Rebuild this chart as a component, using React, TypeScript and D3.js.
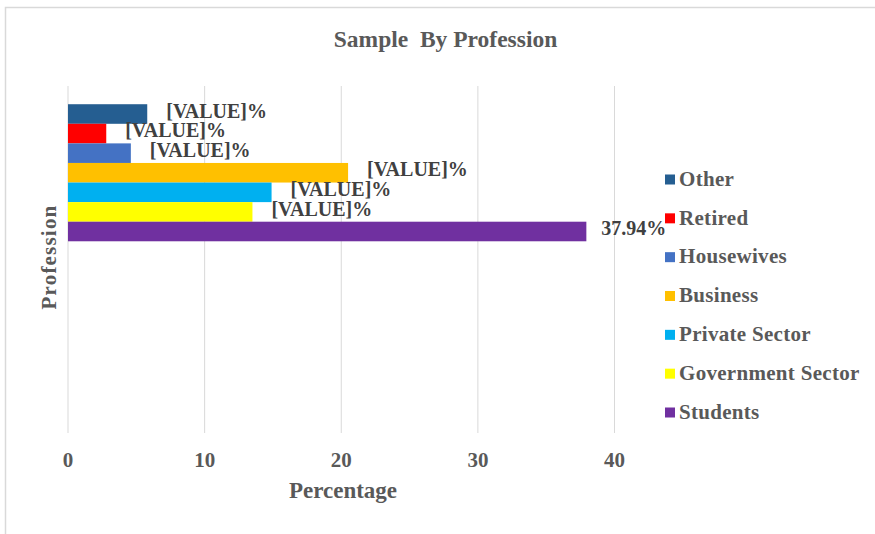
import React from "react";
import * as d3 from "d3";

// Share of the sample by profession (percent)
const series = ["Other", "Retired", "Housewives", "Business", "Private Sector", "Government Sector", "Students"];
const values = [5.8, 2.8, 4.6, 20.5, 14.9, 13.5, 37.94];
const valueLabels = ["[VALUE]%", "[VALUE]%", "[VALUE]%", "[VALUE]%", "[VALUE]%", "[VALUE]%", "37.94%"];
const colors = ["#255e91", "#ff0000", "#4472c4", "#ffc000", "#00b0f0", "#ffff00", "#7030a0"];
const categories = ["Profession", " "];
const xTicks = [0, 10, 20, 30, 40];

const W = 875;
const H = 534;
const FONT = "'Liberation Serif', 'Times New Roman', serif";
const TEXT = "#595959";
const LABEL = "#404040";

export default function App() {
  const x = d3.scaleLinear().domain([0, 40]).range([68, 614.5]);
  const yCat = d3.scaleBand<string>().domain(categories).range([86, 433]).paddingInner(0.21).paddingOuter(0.105);
  const yBar = d3.scaleBand<string>().domain(series).range([0, yCat.bandwidth()]).padding(0);
  const top = yCat(categories[0]) ?? 0;

  const legendY = d3.scalePoint<string>().domain(series).range([180, 413]);

  return (
    <svg width={W} height={H} style={{ position: "absolute", left: 0, top: 0, background: "#fff" }}>
      <rect x={5.5} y={7.5} width={W + 10} height={H + 10} fill="#fff" stroke="#d9d9d9" strokeWidth={1.5} />

      <text x={445.5} y={47} textAnchor="middle" fontFamily={FONT} fontWeight="bold" fontSize={23.5} fill={TEXT} style={{ whiteSpace: "pre" }}>
        {"Sample  By Profession"}
      </text>

      {xTicks.map((t) => (
        <g key={t}>
          <line x1={x(t)} x2={x(t)} y1={86} y2={433} stroke="#d9d9d9" strokeWidth={1} />
          <text x={x(t)} y={467} textAnchor="middle" fontFamily={FONT} fontWeight="bold" fontSize={21} fill={TEXT}>
            {t}
          </text>
        </g>
      ))}

      {series.map((s, i) => {
        const y0 = top + (yBar(s) ?? 0);
        const bh = yBar.bandwidth();
        const xe = x(values[i]);
        const isPlaceholder = valueLabels[i].startsWith("[");
        return (
          <g key={s}>
            <rect x={x(0)} y={y0} width={xe - x(0)} height={bh} fill={colors[i]} />
            <text
              x={xe + (isPlaceholder ? 19 : 15)}
              y={y0 + bh / 2 - 1}
              dominantBaseline="middle"
              fontFamily={FONT}
              fontWeight="bold"
              fontSize={20}
              fill={LABEL}
            >
              {valueLabels[i]}
            </text>
          </g>
        );
      })}

      <text
        transform={`translate(56, 257) rotate(-90)`}
        textAnchor="middle"
        fontFamily={FONT}
        fontWeight="bold"
        fontSize={21}
        letterSpacing={1.2}
        fill={TEXT}
      >
        Profession
      </text>

      <text x={343} y={498} textAnchor="middle" fontFamily={FONT} fontWeight="bold" fontSize={23} fill={TEXT}>
        Percentage
      </text>

      {series.map((s, i) => {
        const cy = legendY(s) ?? 0;
        return (
          <g key={s}>
            <rect x={665} y={cy - 5.5} width={10} height={10} fill={colors[i]} />
            <text x={679} y={cy + 1} dominantBaseline="middle" fontFamily={FONT} fontWeight="bold" fontSize={21} letterSpacing={0.3} fill={TEXT}>
              {s}
            </text>
          </g>
        );
      })}
    </svg>
  );
}
